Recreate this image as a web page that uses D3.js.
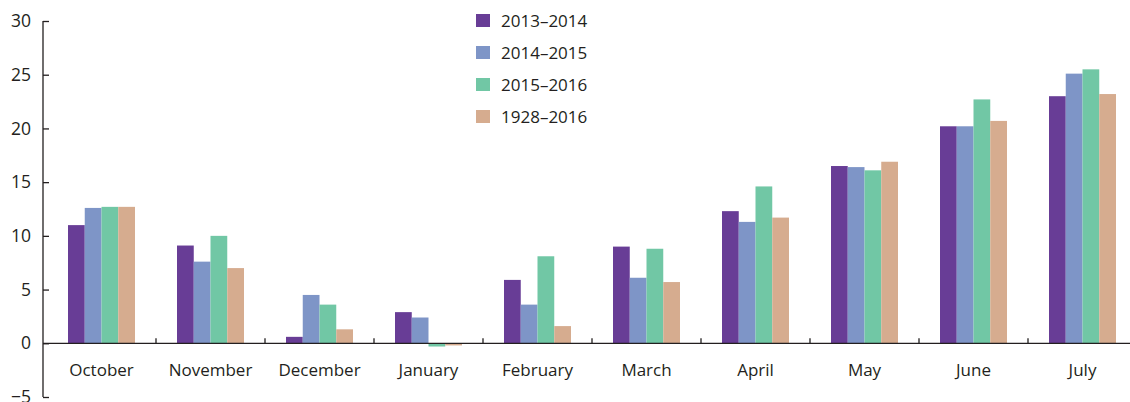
<!DOCTYPE html>
<html>
<head>
<meta charset="utf-8">
<script src="https://cdn.jsdelivr.net/npm/d3@7"></script>
<style>
  body { margin: 0; background: #fff; }
  svg text { font-family: "Open Sans", "Noto Sans", sans-serif; fill: #231f20; }
</style>
</head>
<body>
<div id="chart"></div>
<script>
var months = ["October", "November", "December", "January", "February", "March", "April", "May", "June", "July"];
var seriesNames = ["2013\u20132014", "2014\u20132015", "2015\u20132016", "1928\u20132016"];
var s2013 = [11.0, 9.1, 0.6, 2.9, 5.9, 9.0, 12.3, 16.5, 20.2, 23.0];
var s2014 = [12.6, 7.6, 4.5, 2.4, 3.6, 6.1, 11.3, 16.4, 20.2, 25.1];
var s2015 = [12.7, 10.0, 3.6, -0.3, 8.1, 8.8, 14.6, 16.1, 22.7, 25.5];
var sNormal = [12.7, 7.0, 1.3, -0.2, 1.6, 5.7, 11.7, 16.9, 20.7, 23.2];
var yTicks = [-5, 0, 5, 10, 15, 20, 25, 30];
var colors = ["#683d96", "#7e95c7", "#71c7a5", "#d6ac8f"];

var allSeries = [s2013, s2014, s2015, sNormal];

var width = 1130, height = 402;
var svg = d3.select("#chart").append("svg")
    .attr("width", width)
    .attr("height", height);

var x = d3.scaleBand()
    .domain(months)
    .range([47, 1137]);

var y = d3.scaleLinear()
    .domain([-5, 30])
    .range([397, 21]);

var inner = d3.scaleBand()
    .domain(d3.range(seriesNames.length))
    .range([0, 67]);

// bars
var groups = svg.append("g").selectAll("g")
    .data(months)
    .enter().append("g")
    .attr("transform", function(d) { return "translate(" + (x(d) + (x.bandwidth() - 67) / 2) + ",0)"; });

groups.selectAll("rect")
    .data(function(d, i) { return allSeries.map(function(s, k) { return {k: k, v: s[i]}; }); })
    .enter().append("rect")
    .attr("x", function(d) { return inner(d.k); })
    .attr("width", inner.bandwidth())
    .attr("y", function(d) { return y(Math.max(0, d.v)); })
    .attr("height", function(d) { return Math.abs(y(d.v) - y(0)); })
    .attr("fill", function(d) { return colors[d.k]; });

// y axis (the -5 label runs off the bottom edge, as in the original)
var yAxis = svg.append("g")
    .attr("transform", "translate(43,0)")
    .call(d3.axisLeft(y).tickValues(yTicks).tickSize(-6).tickPadding(12)
      .tickFormat(function(d) { return d < 0 ? "\u2212" + Math.abs(d) : d; }));
yAxis.select(".domain").attr("d", "M0," + y(30) + "V" + y(-5)).attr("stroke", "#231f20").attr("stroke-width", 1.3);
yAxis.selectAll(".tick line").attr("stroke", "#231f20").attr("stroke-width", 1.3);
yAxis.selectAll("text").style("font-size", "17.5px").attr("fill", "#231f20");

// x axis at zero
var xAxis = svg.append("g")
    .attr("transform", "translate(0," + y(0) + ")")
    .call(d3.axisBottom(x).tickSize(0).tickPadding(21));
xAxis.select(".domain").attr("d", "M43,0H" + width).attr("stroke", "#231f20").attr("stroke-width", 1.3);
xAxis.selectAll("text").style("font-size", "17px").attr("fill", "#231f20");

// small ticks between month groups
svg.append("g").selectAll("line")
    .data(months.slice(1))
    .enter().append("line")
    .attr("x1", function(d) { return x(d); })
    .attr("x2", function(d) { return x(d); })
    .attr("y1", y(0))
    .attr("y2", y(0) - 5)
    .attr("stroke", "#231f20")
    .attr("stroke-width", 1.3);

// legend
var legend = svg.append("g").attr("transform", "translate(476,14)");
var items = legend.selectAll("g")
    .data(seriesNames)
    .enter().append("g")
    .attr("transform", function(d, i) { return "translate(0," + (i * 32) + ")"; });
items.append("rect")
    .attr("width", 14)
    .attr("height", 13)
    .attr("fill", function(d, i) { return colors[i]; });
items.append("text")
    .attr("x", 25)
    .attr("y", 7)
    .attr("dy", "0.35em")
    .style("font-size", "17px")
    .text(function(d) { return d; });
</script>
</body>
</html>
